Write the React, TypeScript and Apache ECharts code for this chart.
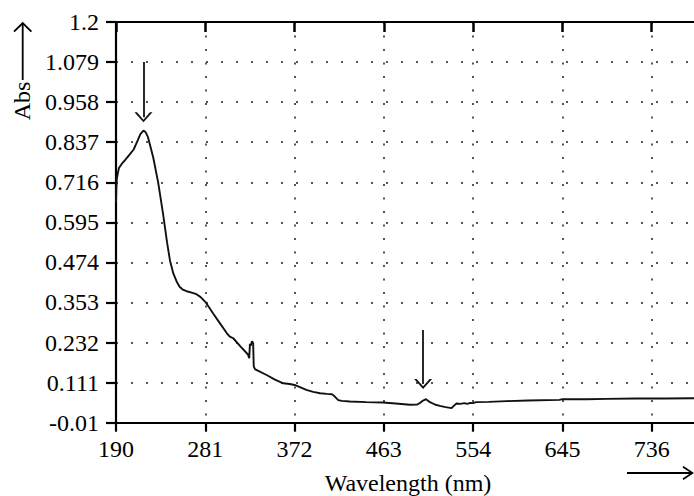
import { useEffect, useRef } from "react";
import * as echarts from "echarts";

// Axis definition (ticks)
const X_MIN = 190;
const X_STEP = 91;
const X_STEPS = 7;
const Y_MIN = -0.01;
const Y_STEP = 0.121;
const Y_STEPS = 10;

// Spectrum
const wavelengths = [
  190, 190.4, 190.8, 192, 193, 196, 199, 204, 208, 211, 215, 218, 220, 222.5, 225, 228,
  233, 238, 242, 245, 248.5, 252, 255, 258, 262, 268, 272, 276, 281, 285, 289, 296, 303,
  306, 309.5, 317, 324.5, 325.8, 326.5, 327.3, 328.6, 329.8, 330.4, 331.6, 334, 343.5,
  352, 360.5, 367, 372, 378, 384, 391, 398, 405, 410, 412, 416.5, 420, 428.5, 445, 462,
  475, 489.5, 497, 500, 503, 506, 510, 515, 520, 526, 532, 534, 537, 541, 545, 548, 551,
  554, 557, 570, 588, 610, 642, 645, 670, 690, 720, 750, 778, 800,
];
const absorbance = [
  0.653, 0.7, 0.725, 0.745, 0.759, 0.772, 0.782, 0.8, 0.815, 0.835, 0.862, 0.872, 0.868,
  0.853, 0.825, 0.79, 0.715, 0.62, 0.535, 0.48, 0.44, 0.415, 0.4, 0.392, 0.387, 0.382,
  0.378, 0.37, 0.355, 0.338, 0.32, 0.29, 0.26, 0.25, 0.245, 0.22, 0.196, 0.185, 0.228,
  0.222, 0.236, 0.23, 0.16, 0.152, 0.148, 0.134, 0.12, 0.109, 0.107, 0.104, 0.097, 0.089,
  0.083, 0.079, 0.077, 0.076, 0.072, 0.058, 0.056, 0.054, 0.052, 0.051, 0.048, 0.044,
  0.045, 0.05, 0.057, 0.061, 0.052, 0.045, 0.041, 0.037, 0.034, 0.04, 0.048, 0.047,
  0.049, 0.047, 0.05, 0.049, 0.052, 0.053, 0.055, 0.057, 0.059, 0.061, 0.061, 0.062,
  0.063, 0.063, 0.064, 0.064,
];

// Peak annotations (downward arrows)
const arrowX = [218, 503];
const arrowFrom = [1.079, 0.27];
const arrowTo = [0.912, 0.107];

const FONT = "Liberation Serif";
const CHEVRON = "path://M0,10 L5,0 L10,10 L8.6,10 L5,2.6 L1.4,10 Z";

function fmtY(v: number) {
  return String(parseFloat((v + Y_MIN).toFixed(3)));
}
function fmtX(v: number) {
  return String(Math.round(v + X_MIN));
}

export default function App() {
  const ref = useRef<HTMLDivElement>(null);

  useEffect(() => {
    const chart = echarts.init(ref.current!, null, { renderer: "svg" });
    const data = wavelengths.map((w, i) => [w - X_MIN, absorbance[i] - Y_MIN]);
    const xMax = X_STEP * X_STEPS;
    const yMax = parseFloat((Y_STEP * Y_STEPS).toFixed(3));
    const axisLine = { show: true, lineStyle: { color: "#000", width: 2.2 } };

    chart.setOption({
      animation: false,
      backgroundColor: "#fff",
      textStyle: { fontFamily: FONT },
      grid: {
        left: 116,
        top: 22,
        width: 625,
        height: 400.7,
        containLabel: false,
        outerBoundsMode: "none",
      },
      xAxis: [
        {
          type: "value",
          position: "bottom",
          min: 0,
          max: xMax,
          interval: X_STEP,
          axisLine,
          axisTick: { show: true, inside: false, length: 9, lineStyle: { color: "#000", width: 2.2 } },
          axisLabel: {
            formatter: fmtX,
            margin: 14,
            fontSize: 24,
            fontFamily: FONT,
            color: "#000",
            showMaxLabel: false,
          },
          splitLine: {
            show: true,
            lineStyle: { color: "#555", width: 2, type: [2, 11.5] },
          },
        },
        {
          type: "value",
          position: "top",
          min: 0,
          max: xMax,
          interval: X_STEP,
          axisLine,
          axisTick: { show: true, inside: true, length: 10, lineStyle: { color: "#000", width: 2.5 } },
          axisLabel: { show: false },
          splitLine: { show: false },
        },
      ],
      yAxis: {
        type: "value",
        min: 0,
        max: yMax,
        interval: Y_STEP,
        axisLine,
        axisTick: { show: true, inside: false, length: 10, lineStyle: { color: "#000", width: 2.2 } },
        axisLabel: {
          formatter: fmtY,
          margin: 17,
          fontSize: 24,
          fontFamily: FONT,
          color: "#000",
        },
        splitLine: {
          show: true,
          lineStyle: { color: "#555", width: 2, type: [2, 13] },
        },
      },
      series: [
        {
          type: "line",
          xAxisIndex: 0,
          data,
          symbol: "none",
          showSymbol: false,
          smooth: false,
          lineStyle: { color: "#111", width: 1.9 },
          emphasis: { disabled: true },
          markLine: {
            silent: true,
            symbol: ["none", CHEVRON],
            symbolSize: [18, 10],
            label: { show: false },
            lineStyle: { color: "#111", width: 1.8, type: "solid" },
            emphasis: { disabled: true },
            data: arrowX.map((x, i) => [
              { coord: [x - X_MIN, arrowFrom[i] - Y_MIN] },
              { coord: [x - X_MIN, arrowTo[i] - Y_MIN] },
            ]),
          },
        },
      ],
      graphic: [
        {
          type: "text",
          x: 22,
          y: 101,
          rotation: Math.PI / 2,
          style: {
            text: "Abs",
            fontSize: 24,
            fontFamily: FONT,
            fill: "#000",
            align: "center",
            verticalAlign: "middle",
          },
        },
        {
          type: "line",
          shape: { x1: 22.7, y1: 80, x2: 22.7, y2: 23.5 },
          style: { stroke: "#000", lineWidth: 1.8 },
        },
        {
          type: "polyline",
          shape: { points: [[14, 31.7], [22.7, 23], [31.4, 31.7]] },
          style: { stroke: "#000", lineWidth: 1.8, fill: "none" },
        },
        {
          type: "line",
          shape: { x1: 627, y1: 473, x2: 692, y2: 473 },
          style: { stroke: "#000", lineWidth: 1.8 },
        },
        {
          type: "polyline",
          shape: { points: [[683, 466.7], [692.5, 473], [683, 479.3]] },
          style: { stroke: "#000", lineWidth: 1.8, fill: "none" },
        },
        {
          type: "text",
          x: 408,
          y: 495,
          style: {
            text: "Wavelength (nm)",
            fontSize: 24,
            fontFamily: FONT,
            fill: "#000",
            align: "center",
            verticalAlign: "bottom",
          },
        },
      ],
    });

    return () => chart.dispose();
  }, []);

  return (
    <div
      style={{
        position: "fixed",
        left: 0,
        top: 0,
        width: 694,
        height: 496,
        overflow: "hidden",
        background: "#fff",
      }}
    >
      <div ref={ref} style={{ width: 760, height: 496 }} />
    </div>
  );
}
